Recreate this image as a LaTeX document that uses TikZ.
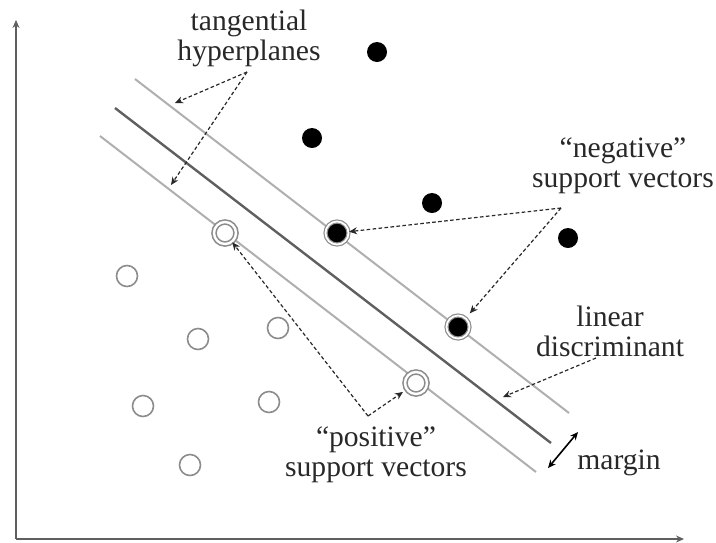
\documentclass[tikz,border=0pt]{standalone}
\usepackage{fontspec}
\setmainfont{Liberation Serif}
\usepackage{xcolor}
\usepackage{tikz}
\usetikzlibrary{arrows.meta}
\definecolor{planegray}{RGB}{175, 175, 175}
\definecolor{discgray}{RGB}{95, 95, 95}
\definecolor{ringgray}{RGB}{140, 140, 140}
\definecolor{textgray}{RGB}{40, 40, 40}

\begin{document}
\begin{tikzpicture}[x=0.5pt, y=-0.5pt,
            negative/.style = {
                circle,
                fill=black,
                inner sep=0pt,
                minimum size=10pt},
            positive/.style = {
                circle,
                draw=ringgray,
                fill=white,
                line width=0.8pt,
                inner sep=0pt,
                minimum size=10.5pt},
            negsupport/.style = {
                circle,
                fill=black,
                draw=ringgray,
                double=white,
                double distance=0.9pt,
                line width=0.6pt,
                inner sep=0pt,
                minimum size=11.5pt},
            possupport/.style = {
                circle,
                draw=ringgray,
                fill=white,
                double=white,
                double distance=1.2pt,
                line width=0.8pt,
                inner sep=0pt,
                minimum size=11pt},
            note/.style = {
                text=textgray,
                align=center,
                font=\fontsize{14.8}{15}\selectfont},
            pointer/.style = {
                draw=textgray,
                line width=0.6pt,
                dash pattern=on 1.8pt off 1.2pt,
                -{Stealth[length=4pt, width=3.5pt]}}]
            \useasboundingbox (0,0) rectangle (716,542);

            % axes
            \coordinate (origin) at (16,539);
            \coordinate (ytop) at (16,20);
            \coordinate (xend) at (684,539);
            \draw[line width=0.9pt, draw=discgray, -{Stealth[length=4pt, width=3.5pt]}] (origin) -- (ytop);
            \draw[line width=0.9pt, draw=discgray, -{Stealth[length=4pt, width=3.5pt]}] (origin) -- (xend);

            % hyperplanes
            \coordinate (up1) at (135,79);   \coordinate (up2) at (569,413);
            \coordinate (mid1) at (115,108); \coordinate (mid2) at (551,443);
            \coordinate (low1) at (100,136); \coordinate (low2) at (536,472);
            \draw[line width=1pt, draw=planegray] (up1) -- (up2);
            \draw[line width=1.2pt, draw=discgray] (mid1) -- (mid2);
            \draw[line width=1pt, draw=planegray] (low1) -- (low2);

            % data points
            \node[negative] (n1) at (377,52) {};
            \node[negative] (n2) at (312,138) {};
            \node[negative] (n3) at (432,203) {};
            \node[negative] (n4) at (568,238) {};
            \node[negsupport] (ns1) at (337,233) {};
            \node[negsupport] (ns2) at (458,327) {};
            \node[possupport] (ps1) at (225,233) {};
            \node[possupport] (ps2) at (416,383) {};
            \node[positive] (p1) at (127,276) {};
            \node[positive] (p2) at (198,339) {};
            \node[positive] (p3) at (278,328) {};
            \node[positive] (p4) at (143,406) {};
            \node[positive] (p5) at (269,402) {};
            \node[positive] (p6) at (190,465) {};

            % labels
            \node[note] (tangent) at (249,38) {tangential\\hyperplanes};
            \node[note] (negsv) at (623,166) {“negative”\\support vectors};
            \node[note] (lindisc) at (610,331) {linear\\discriminant};
            \node[note] (possv) at (376,455) {“positive”\\support vectors};
            \node[note] (margin) at (619,463) {margin};

            % pointers
            \coordinate (tanfrom) at (247,72);
            \coordinate (tanA) at (175,103);
            \coordinate (tanB) at (171,185);
            \draw[pointer] (tanfrom) -- (tanA);
            \draw[pointer] (tanfrom) -- (tanB);
            \coordinate (negfrom) at (561,208);
            \draw[pointer] (negfrom) -- (ns1);
            \draw[pointer, shorten >=3pt] (negfrom) -- (ns2);
            \coordinate (discfrom) at (596,358);
            \coordinate (discto) at (503,397);
            \draw[pointer] (discfrom) -- (discto);
            \coordinate (posfrom) at (368,416);
            \draw[pointer] (posfrom) -- (ps1);
            \draw[pointer, shorten >=2pt] (posfrom) -- (ps2);
            \coordinate (marA) at (548,468);
            \coordinate (marB) at (578,432);
            \draw[line width=0.8pt, {Stealth[length=4pt, width=3.5pt]}-{Stealth[length=4pt, width=3.5pt]}] (marA) -- (marB);
        \end{tikzpicture}
\end{document}
